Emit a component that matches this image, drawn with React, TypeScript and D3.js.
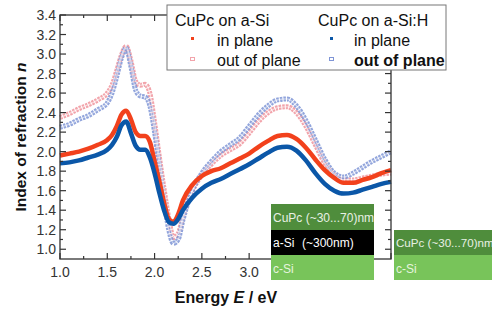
import React from "react";
import * as d3 from "d3";

// photon energy in eV
const energy = [1.0, 1.1, 1.2, 1.3, 1.4, 1.5, 1.55, 1.6, 1.65, 1.7, 1.75, 1.8, 1.85, 1.9, 1.95, 2.0, 2.05, 2.1, 2.15, 2.2, 2.25, 2.3, 2.4, 2.5, 2.6, 2.7, 2.8, 2.9, 3.0, 3.1, 3.2, 3.3, 3.4, 3.5, 3.6, 3.7, 3.8, 3.9, 4.0, 4.1, 4.2, 4.3, 4.4, 4.5];

const aSiIn = [1.96, 1.98, 2.0, 2.03, 2.07, 2.12, 2.17, 2.26, 2.38, 2.42, 2.33, 2.2, 2.16, 2.16, 2.1, 1.9, 1.7, 1.48, 1.31, 1.28, 1.36, 1.5, 1.66, 1.75, 1.8, 1.83, 1.88, 1.93, 1.98, 2.05, 2.11, 2.16, 2.17, 2.13, 2.04, 1.92, 1.81, 1.73, 1.68, 1.68, 1.71, 1.74, 1.78, 1.81];
const aSiOut = [2.35, 2.39, 2.44, 2.48, 2.53, 2.6, 2.68, 2.83, 2.99, 3.08, 2.93, 2.72, 2.68, 2.69, 2.6, 2.3, 1.95, 1.62, 1.32, 1.12, 1.16, 1.34, 1.6, 1.76, 1.87, 1.96, 2.02, 2.08, 2.19, 2.31, 2.4, 2.45, 2.46, 2.4, 2.26, 2.07, 1.88, 1.76, 1.71, 1.71, 1.73, 1.75, 1.77, 1.78];
const aSiHIn = [1.88, 1.89, 1.91, 1.94, 1.97, 2.02, 2.07, 2.15, 2.27, 2.31, 2.19, 2.06, 2.02, 2.02, 1.94, 1.78, 1.58, 1.4, 1.28, 1.26, 1.31, 1.4, 1.53, 1.62, 1.68, 1.72, 1.77, 1.82, 1.87, 1.93, 1.99, 2.04, 2.05, 2.01, 1.91, 1.78, 1.67, 1.6, 1.57, 1.58, 1.61, 1.64, 1.67, 1.69];
const aSiHOut = [2.25, 2.28, 2.33, 2.37, 2.43, 2.5, 2.6, 2.77, 2.96, 3.06, 2.87, 2.63, 2.57, 2.56, 2.47, 2.2, 1.85, 1.5, 1.2, 1.06, 1.1, 1.3, 1.6, 1.78, 1.9, 2.0, 2.07, 2.14, 2.26, 2.38, 2.47, 2.53, 2.54, 2.47, 2.32, 2.12, 1.92, 1.78, 1.74, 1.78, 1.84, 1.9, 1.95, 2.0];

const xTickLabels = [1.0, 1.5, 2.0, 2.5, 3.0];
const yTickLabels = [1.0, 1.2, 1.4, 1.6, 1.8, 2.0, 2.2, 2.4, 2.6, 2.8, 3.0, 3.2, 3.4];

const W = 492;
const H = 309;
const left = 60, right = 391, top = 15, bottom = 259;

const x = d3.scaleLinear().domain([1.0, 4.5]).range([left, right]);
const y = d3.scaleLinear().domain([0.9, 3.4]).range([bottom, top]);

const line = d3
  .line<number>()
  .x((_, i) => x(energy[i]))
  .y((d) => y(d))
  .curve(d3.curveMonotoneX);

const RED = "#f2411c";
const BLUE = "#0b57a8";
const PINK = "#f2a4ab";
const LBLUE = "#7f95d6";
const AX = "#333";

const App = () => {
  const xMinor = d3.range(1.0, 4.5001, 0.25);
  const yMinor = d3.range(1.0, 3.4001, 0.1);
  const font = "Liberation Sans, Arial, sans-serif";

  return (
    <svg width={W} height={H} style={{ position: "absolute", left: 0, top: 0 }} fontFamily={font}>
      <rect width={W} height={H} fill="#fff" />

      {/* out of plane: dense open markers */}
      <path d={line(aSiOut) || ""} fill="none" stroke={PINK} strokeWidth={5} strokeDasharray="2.5 1" />
      <path d={line(aSiHOut) || ""} fill="none" stroke={LBLUE} strokeWidth={5} strokeDasharray="2.5 1" opacity={0.85} />
      <path d={line(aSiOut) || ""} fill="none" stroke="#fff" strokeWidth={1.2} opacity={0.6} />
      <path d={line(aSiHOut) || ""} fill="none" stroke="#fff" strokeWidth={1.2} opacity={0.5} />
      {/* in plane */}
      <path d={line(aSiIn) || ""} fill="none" stroke={RED} strokeWidth={4.5} />
      <path d={line(aSiHIn) || ""} fill="none" stroke={BLUE} strokeWidth={4.5} />

      {/* frame */}
      <rect x={left} y={top} width={right - left} height={bottom - top} fill="none" stroke={AX} strokeWidth={1.3} />
      {xMinor.map((v, i) => (
        <g key={"xt" + i} stroke={AX} strokeWidth={1.2}>
          <line x1={x(v)} x2={x(v)} y1={bottom} y2={bottom - (i % 2 === 0 ? 6 : 3)} />
          <line x1={x(v)} x2={x(v)} y1={top} y2={top + (i % 2 === 0 ? 6 : 3)} />
        </g>
      ))}
      {yMinor.map((v, i) => (
        <g key={"yt" + i} stroke={AX} strokeWidth={1.2}>
          <line x1={left} x2={left + (i % 2 === 0 ? 6 : 3)} y1={y(v)} y2={y(v)} />
          <line x1={right} x2={right - (i % 2 === 0 ? 6 : 3)} y1={y(v)} y2={y(v)} />
        </g>
      ))}
      {xTickLabels.map((v) => (
        <text key={"xl" + v} x={x(v)} y={277} textAnchor="middle" fontSize={14} fill={AX}>
          {v.toFixed(1)}
        </text>
      ))}
      {yTickLabels.map((v) => (
        <text key={"yl" + v} x={56} y={y(v) + 5} textAnchor="end" fontSize={14} fill={AX}>
          {v.toFixed(1)}
        </text>
      ))}

      {/* axis titles */}
      <text transform="translate(26,137) rotate(-90)" textAnchor="middle" fontSize={15.5} fontWeight="bold" fill="#111">
        Index of refraction <tspan fontStyle="italic">n</tspan>
      </text>
      <text x={226} y={303} textAnchor="middle" fontSize={16} fontWeight="bold" fill="#111">
        Energy <tspan fontStyle="italic">E</tspan> / eV
      </text>

      {/* legend */}
      <rect x={167} y={5} width={279} height={65} fill="#fff" stroke="#777" strokeWidth={1} />
      <text x={175} y={26} fontSize={16} fill="#111">CuPc on a-Si</text>
      <rect x={191} y={37} width={3} height={3} fill={RED} />
      <text x={217} y={46} fontSize={16} fill="#111">in plane</text>
      <rect x={190.5} y={57.5} width={4} height={3} fill="none" stroke={PINK} strokeWidth={1} />
      <text x={217} y={66} fontSize={16} fill="#111">out of plane</text>

      <text x={318} y={26} fontSize={16} fill="#111">CuPc on a-Si:H</text>
      <rect x={330} y={37} width={3} height={3} fill={BLUE} />
      <text x={354} y={46} fontSize={16} fill="#111">in plane</text>
      <rect x={329.5} y={57.5} width={4} height={3} fill="none" stroke={LBLUE} strokeWidth={1} />
      <text x={354} y={66} fontSize={16} fontWeight="bold" fill="#111">out of plane</text>

      {/* layer stack insets */}
      <g fontSize={12} fill="#fff">
        <rect x={271} y={204} width={103} height={26} fill="#4f8d3c" />
        <rect x={271} y={230} width={103} height={25} fill="#000" />
        <rect x={271} y={255} width={103} height={25} fill="#78c45a" />
        <text x={273} y={222} fill="#e8f0e4">CuPc (~30...70)nm</text>
        <text x={273} y={247}>
          a-Si<tspan x={302}>(~300nm)</tspan>
        </text>
        <text x={273} y={273} fill="#e6f4de">c-Si</text>

        <rect x={394} y={230} width={98} height={25} fill="#4f8d3c" />
        <rect x={394} y={255} width={98} height={25} fill="#78c45a" />
        <text x={396} y={247} fontSize={11.6} fill="#e8f0e4">CuPc (~30...70)nm</text>
        <text x={396} y={273} fill="#e6f4de">c-Si</text>
      </g>
    </svg>
  );
};

export default App;
